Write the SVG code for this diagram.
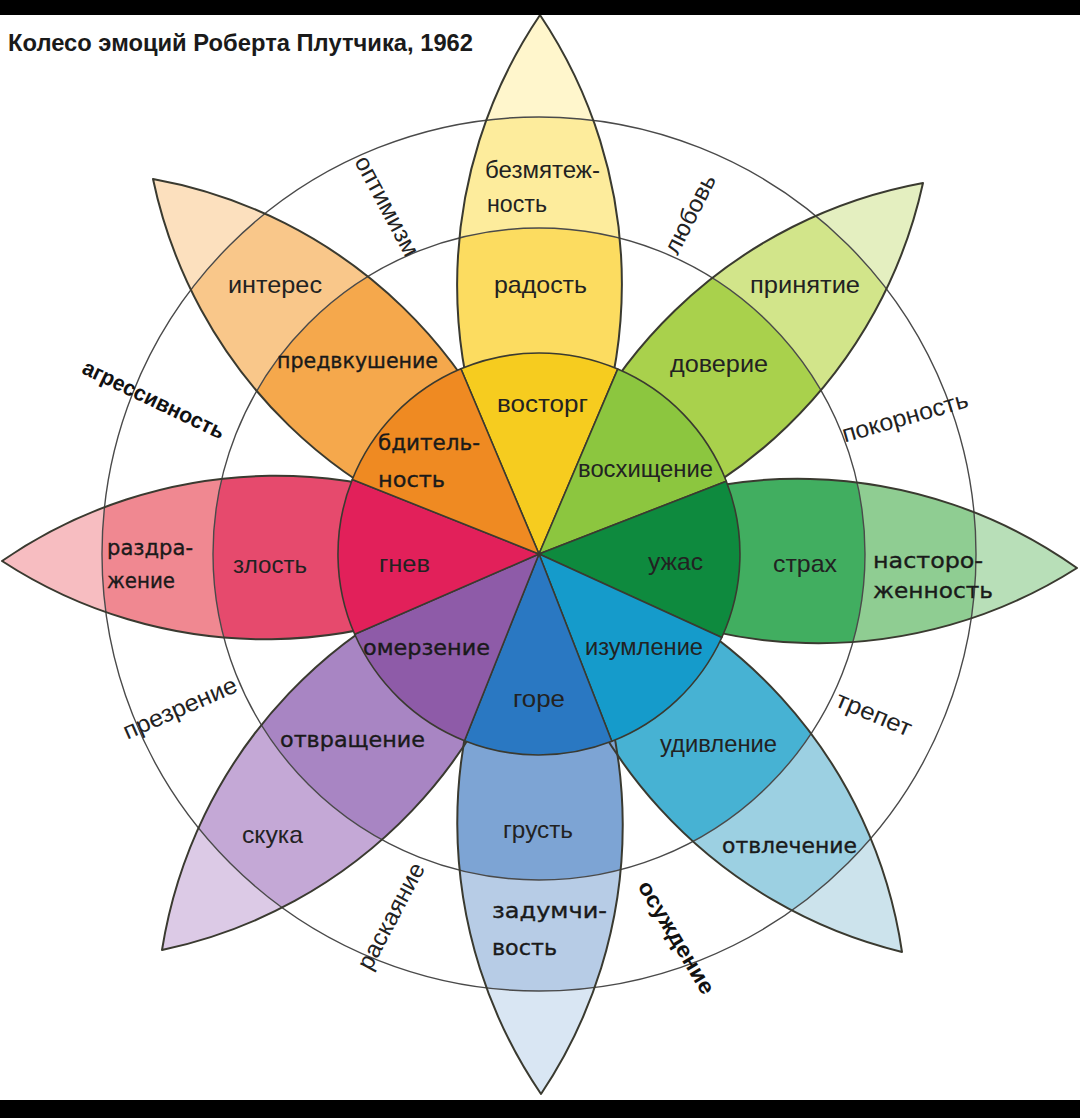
<svg xmlns="http://www.w3.org/2000/svg" width="1080" height="1118" viewBox="0 0 1080 1118">
<style>
.ol{fill:none;stroke:#3a3a30;stroke-width:2;stroke-linejoin:round}
.ring{fill:none;stroke:#4a4a4a;stroke-width:1.4}
.w{stroke:#3a3a30;stroke-width:1.6;stroke-linejoin:round}
.a{font-family:"Liberation Sans",Arial,sans-serif;font-size:24px;fill:#222}
.v{font-family:"DejaVu Sans",Verdana,sans-serif;font-size:21px;fill:#1a1a1a;stroke:#1a1a1a;stroke-width:0.35}
.d{font-family:"Liberation Sans",Arial,sans-serif;font-size:24px;fill:#222;text-anchor:middle}
.db{font-family:"Liberation Sans",Arial,sans-serif;font-size:22px;font-weight:bold;fill:#111;text-anchor:middle}
.t{font-family:"Liberation Sans",Arial,sans-serif;font-size:24px;font-weight:bold;fill:#1a1a1a}
</style>
<defs>
<path id="p0" d="M539,554 A482,482 0 0 1 540,15 A482,482 0 0 1 539,554 Z"/>
<path id="p1" d="M539,554 A482,482 0 0 1 923,183 A482,482 0 0 1 539,554 Z"/>
<path id="p2" d="M539,554 A482,482 0 0 1 1077,568 A482,482 0 0 1 539,554 Z"/>
<path id="p3" d="M539,554 A482,482 0 0 1 902,952 A482,482 0 0 1 539,554 Z"/>
<path id="p4" d="M539,554 A482,482 0 0 1 541,1094 A482,482 0 0 1 539,554 Z"/>
<path id="p5" d="M539,554 A482,482 0 0 1 162,950 A482,482 0 0 1 539,554 Z"/>
<path id="p6" d="M539,554 A482,482 0 0 1 2,561 A482,482 0 0 1 539,554 Z"/>
<path id="p7" d="M539,554 A482,482 0 0 1 153,179 A482,482 0 0 1 539,554 Z"/>
<clipPath id="c0"><use href="#p0"/></clipPath>
<clipPath id="c1"><use href="#p1"/></clipPath>
<clipPath id="c2"><use href="#p2"/></clipPath>
<clipPath id="c3"><use href="#p3"/></clipPath>
<clipPath id="c4"><use href="#p4"/></clipPath>
<clipPath id="c5"><use href="#p5"/></clipPath>
<clipPath id="c6"><use href="#p6"/></clipPath>
<clipPath id="c7"><use href="#p7"/></clipPath>
</defs>
<rect width="1080" height="1118" fill="#ffffff"/>

<g id="petal-fills">
<g id="petal-joy" clip-path="url(#c0)"><circle cx="539" cy="554" r="560" fill="#FFF6CC"/><circle cx="539" cy="554" r="437" fill="#FDEC9C"/><circle cx="539" cy="554" r="326" fill="#FCDC60"/></g>
<g id="petal-trust" clip-path="url(#c1)"><circle cx="539" cy="554" r="560" fill="#E4EFC0"/><circle cx="539" cy="554" r="437" fill="#D2E58A"/><circle cx="539" cy="554" r="326" fill="#A9D14C"/></g>
<g id="petal-fear" clip-path="url(#c2)"><circle cx="539" cy="554" r="560" fill="#B8DFB8"/><circle cx="539" cy="554" r="437" fill="#8FCD92"/><circle cx="539" cy="554" r="326" fill="#41AE60"/></g>
<g id="petal-surprise" clip-path="url(#c3)"><circle cx="539" cy="554" r="560" fill="#CCE3EC"/><circle cx="539" cy="554" r="437" fill="#9CD0E2"/><circle cx="539" cy="554" r="326" fill="#47B2D3"/></g>
<g id="petal-sadness" clip-path="url(#c4)"><circle cx="539" cy="554" r="560" fill="#D9E6F3"/><circle cx="539" cy="554" r="437" fill="#B7CCE6"/><circle cx="539" cy="554" r="326" fill="#7DA4D4"/></g>
<g id="petal-disgust" clip-path="url(#c5)"><circle cx="539" cy="554" r="560" fill="#DCCAE6"/><circle cx="539" cy="554" r="437" fill="#C4A8D6"/><circle cx="539" cy="554" r="326" fill="#A885C3"/></g>
<g id="petal-anger" clip-path="url(#c6)"><circle cx="539" cy="554" r="560" fill="#F7BDC1"/><circle cx="539" cy="554" r="437" fill="#F08891"/><circle cx="539" cy="554" r="326" fill="#E64A6D"/></g>
<g id="petal-anticipation" clip-path="url(#c7)"><circle cx="539" cy="554" r="560" fill="#FCE0BE"/><circle cx="539" cy="554" r="437" fill="#F9C78A"/><circle cx="539" cy="554" r="326" fill="#F5A84C"/></g>
</g>

<g id="rings">
<circle class="ring" cx="539" cy="554" r="326"/>
<circle class="ring" cx="539" cy="554" r="437"/>
</g>

<g id="petal-outlines">
<use href="#p0" class="ol"/><use href="#p1" class="ol"/><use href="#p2" class="ol"/><use href="#p3" class="ol"/>
<use href="#p4" class="ol"/><use href="#p5" class="ol"/><use href="#p6" class="ol"/><use href="#p7" class="ol"/>
</g>

<g id="core">
<path id="core-ecstasy" class="w" fill="#F6CC1F" d="M539,554 L460.9,368.8 A201,201 0 0 1 617.7,369.1 Z"/>
<path id="core-admiration" class="w" fill="#8CC63F" d="M539,554 L617.7,369.1 A201,201 0 0 1 726.3,481.2 Z"/>
<path id="core-terror" class="w" fill="#0E8A3E" d="M539,554 L726.3,481.2 A201,201 0 0 1 721.8,637.5 Z"/>
<path id="core-amazement" class="w" fill="#159BCB" d="M539,554 L721.8,637.5 A201,201 0 0 1 611.8,741.3 Z"/>
<path id="core-grief" class="w" fill="#2A78C2" d="M539,554 L611.8,741.3 A201,201 0 0 1 464.5,740.7 Z"/>
<path id="core-loathing" class="w" fill="#8E5BA8" d="M539,554 L464.5,740.7 A201,201 0 0 1 354.7,634.3 Z"/>
<path id="core-rage" class="w" fill="#E2205A" d="M539,554 L354.7,634.3 A201,201 0 0 1 352.3,479.5 Z"/>
<path id="core-vigilance" class="w" fill="#EF8A22" d="M539,554 L352.3,479.5 A201,201 0 0 1 460.9,368.8 Z"/>
</g>

<g id="labels">
<text class="a" x="485" y="178" textLength="115" lengthAdjust="spacingAndGlyphs">безмятеж-</text>
<text class="a" x="487" y="212" textLength="60" lengthAdjust="spacingAndGlyphs">ность</text>
<text class="a" x="494" y="293" textLength="93" lengthAdjust="spacingAndGlyphs">радость</text>
<text class="a" x="497" y="412" textLength="91" lengthAdjust="spacingAndGlyphs" fill="#3a3000">восторг</text>

<text class="a" x="750" y="293" textLength="110" lengthAdjust="spacingAndGlyphs">принятие</text>
<text class="a" x="670" y="372" textLength="98" lengthAdjust="spacingAndGlyphs" fill="#1f3a10">доверие</text>
<text class="a" x="578" y="477" textLength="135" lengthAdjust="spacingAndGlyphs" fill="#1f4218">восхищение</text>

<text class="v" x="873" y="568" textLength="110" lengthAdjust="spacingAndGlyphs">насторо-</text>
<text class="v" x="873" y="598" textLength="120" lengthAdjust="spacingAndGlyphs">женность</text>
<text class="a" x="773" y="572" textLength="64" lengthAdjust="spacingAndGlyphs" fill="#1e5e31">страх</text>
<text class="a" x="648" y="570" textLength="55" lengthAdjust="spacingAndGlyphs" fill="#1c5a2e">ужас</text>

<text class="v" x="722" y="853" textLength="135" lengthAdjust="spacingAndGlyphs">отвлечение</text>
<text class="a" x="660" y="752" textLength="117" lengthAdjust="spacingAndGlyphs" fill="#16415a">удивление</text>
<text class="a" x="585" y="655" textLength="118" lengthAdjust="spacingAndGlyphs" fill="#1d4e70">изумление</text>

<text class="v" x="492" y="918" textLength="115" lengthAdjust="spacingAndGlyphs">задумчи-</text>
<text class="v" x="492" y="955" textLength="65" lengthAdjust="spacingAndGlyphs">вость</text>
<text class="a" x="503" y="838" textLength="70" lengthAdjust="spacingAndGlyphs" fill="#1e3050">грусть</text>
<text class="a" x="513" y="707" textLength="52" lengthAdjust="spacingAndGlyphs" fill="#1e3a5f">горе</text>

<text class="a" x="242" y="843" textLength="61" lengthAdjust="spacingAndGlyphs" fill="#3a2a48">скука</text>
<text class="v" x="280" y="747" textLength="145" lengthAdjust="spacingAndGlyphs">отвращение</text>
<text class="v" x="363" y="655" textLength="127" lengthAdjust="spacingAndGlyphs">омерзение</text>

<text class="v" x="107" y="555" textLength="86" lengthAdjust="spacingAndGlyphs">раздра-</text>
<text class="v" x="107" y="588" textLength="68" lengthAdjust="spacingAndGlyphs">жение</text>
<text class="a" x="233" y="573" textLength="74" lengthAdjust="spacingAndGlyphs" fill="#4a1020">злость</text>
<text class="a" x="379" y="572" textLength="51" lengthAdjust="spacingAndGlyphs" fill="#962a48">гнев</text>

<text class="a" x="228" y="293" textLength="94" lengthAdjust="spacingAndGlyphs">интерес</text>
<text class="v" x="277" y="368" textLength="161" lengthAdjust="spacingAndGlyphs">предвкушение</text>
<text class="v" x="378" y="450" textLength="102" lengthAdjust="spacingAndGlyphs">бдитель-</text>
<text class="v" x="378" y="487" textLength="67" lengthAdjust="spacingAndGlyphs">ность</text>
</g>

<g id="dyads">
<g id="dyad-optimism"><text class="d" transform="translate(387,206) rotate(62)" dy="8" textLength="110" lengthAdjust="spacingAndGlyphs">оптимизм</text></g>
<g id="dyad-love"><text class="d" transform="translate(690,214) rotate(-63)" dy="8" textLength="86" lengthAdjust="spacingAndGlyphs">любовь</text></g>
<g id="dyad-submission"><text class="d" transform="translate(905,417) rotate(-16)" dy="8" textLength="130" lengthAdjust="spacingAndGlyphs">покорность</text></g>
<g id="dyad-awe"><text class="d" transform="translate(874,714) rotate(23)" dy="8" textLength="80" lengthAdjust="spacingAndGlyphs">трепет</text></g>
<g id="dyad-disapproval"><text class="db" transform="translate(677,937) rotate(59)" dy="8" textLength="128" lengthAdjust="spacingAndGlyphs">осуждение</text></g>
<g id="dyad-remorse"><text class="d" transform="translate(391,916) rotate(-62)" dy="8" textLength="117" lengthAdjust="spacingAndGlyphs">раскаяние</text></g>
<g id="dyad-contempt"><text class="d" transform="translate(180,708) rotate(-23.5)" dy="8" textLength="122" lengthAdjust="spacingAndGlyphs">презрение</text></g>
<g id="dyad-aggressiveness"><text class="db" transform="translate(154,399) rotate(25.6)" dy="8" textLength="155" lengthAdjust="spacingAndGlyphs">агрессивность</text></g>
</g>

<g id="title"><text class="t" x="8" y="51" textLength="465" lengthAdjust="spacingAndGlyphs">Колесо эмоций Роберта Плутчика, 1962</text></g>

<rect x="0" y="0" width="1080" height="15" fill="#000"/>
<rect x="0" y="1100" width="1080" height="18" fill="#000"/>
</svg>
